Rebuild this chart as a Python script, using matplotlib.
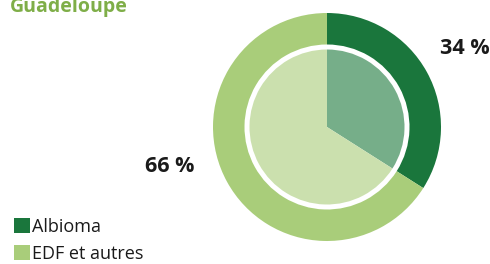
import matplotlib.pyplot as plt
from matplotlib.patches import Patch

# data
labels = ['Albioma', 'EDF et autres']
values = [34, 66]
pct_text = ['34 %', '66 %']
outer_colors = ['#1a763c', '#a9cd7a']
inner_colors = ['#76ae89', '#cbe0ae']

W, H = 490, 264
fig = plt.figure(figsize=(W / 100, H / 100), dpi=100)
ax = fig.add_axes([0, 0, 1, 1])

cx, cy = 327, H - 127
# outer ring
ax.pie(values, colors=outer_colors, radius=114, center=(cx, cy),
       startangle=90, counterclock=False,
       wedgeprops=dict(width=31.5, linewidth=0))
# inner pie
ax.pie(values, colors=inner_colors, radius=77.5, center=(cx, cy),
       startangle=90, counterclock=False,
       wedgeprops=dict(linewidth=0))
ax.set_xlim(0, W)
ax.set_ylim(0, H)
ax.set_aspect('equal')
ax.axis('off')

font = 'Open Sans'
ax.text(10, H - 12, 'Guadeloupe', fontsize=14, fontweight='bold',
        color='#7fae48', family=font, va='baseline', ha='left')

ax.text(465, H - 48, pct_text[0], fontsize=15.5, fontweight='bold',
        color='#1a1a1a', family=font, ha='center', va='center')
ax.text(170, H - 167, pct_text[1], fontsize=15.5, fontweight='bold',
        color='#1a1a1a', family=font, ha='center', va='center')

handles = [Patch(facecolor=c, edgecolor='none') for c in outer_colors]
ax.legend(handles, labels, loc='lower left', bbox_to_anchor=(14 / W, 0.003),
          frameon=False, borderpad=0, borderaxespad=0,
          handlelength=0.9, handleheight=0.9,
          handletextpad=0.12, labelspacing=0.5,
          prop=dict(family=font, size=13), labelcolor='#1a1a1a')

fig.savefig('out.png', dpi=100)
